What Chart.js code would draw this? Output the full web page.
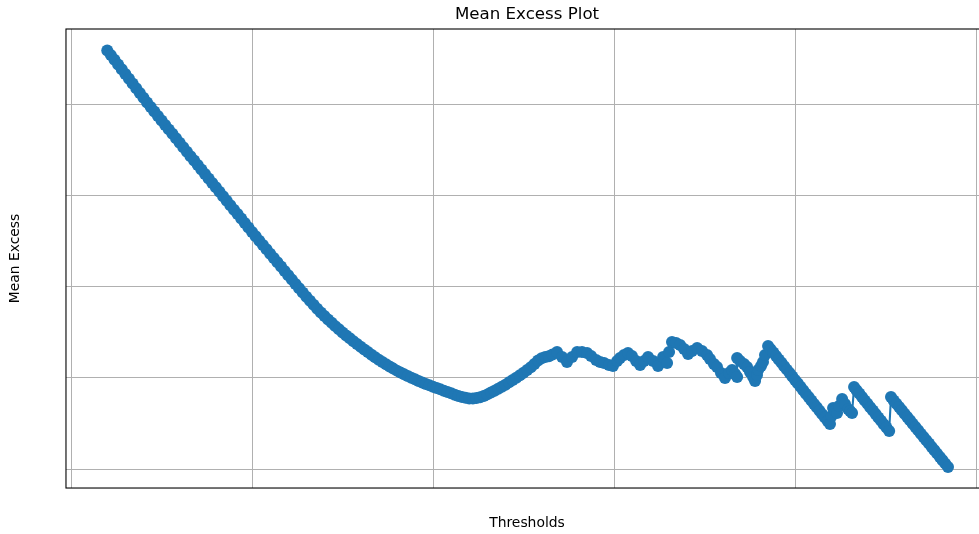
<!DOCTYPE html>
<html>
<head>
<meta charset="utf-8">
<title>Mean Excess Plot</title>
<script src="https://cdn.jsdelivr.net/npm/chart.js@4/dist/chart.umd.min.js"></script>
<style>
  html, body { margin: 0; padding: 0; overflow: hidden; background: #ffffff; }
  canvas { display: block; }
</style>
</head>
<body>
<canvas id="chart" width="1000" height="534"></canvas>
<script>
// Threshold values (x) and the mean excess above each threshold (y)
const thresholds = [
  20, 22, 24, 26, 28, 30, 32, 34, 36, 38, 40, 42, 44, 46, 48, 50, 52, 54, 56, 58,
  60, 62, 64, 66, 68, 70, 72, 74, 76, 78, 80, 82, 84, 86, 88, 90, 92, 94, 96, 98,
  100, 102, 104, 106, 108, 110, 112, 114, 116, 118, 120, 122, 124, 126, 128, 130, 132, 134, 136, 138,
  140, 142, 144, 146, 148, 150, 152, 154, 156, 158, 160, 162, 164, 166, 168, 170, 172, 174, 176, 178,
  180, 182, 184, 186, 188, 190, 192, 194, 196, 198, 200, 202, 204, 206, 208, 210, 212, 214, 216, 218,
  220, 222, 224, 226, 228, 230, 232, 234, 236, 238, 240, 242, 244, 246, 248, 250, 252, 254, 256, 258,
  260, 262, 264, 266, 268.5,
  271.3, 274.0, 276.8, 279.6, 282.3, 285.1, 287.3, 290.1, 292.3, 294.5, 297.2, 299.4,
  301.7, 303.3, 305.5, 307.7, 309.9, 312.2, 314.4, 316.6, 318.8, 321.6, 324.3, 327.1, 329.3,
  330.4, 332.0, 334.3, 336.5, 338.7, 340.9, 343.1, 345.9, 348.6, 351.4, 353.0, 355.2, 356.9,
  359.1, 361.3, 363.5, 365.2, 366.9, 368.0, 368.0, 369.6, 371.8, 373.5, 375.1, 376.8, 377.9,
  379.0, 379.6, 381.2, 382.3, 383.4, 385.1,
  386.5, 388, 389.5, 391, 392.5, 394, 395.5, 397, 398.5, 400, 401.5, 403, 404.5, 406, 407.5,
  409, 410.5, 412, 413.5, 415, 416.5, 418, 419.3,
  420.2, 421.0, 422.1, 423.2, 424.3, 426.0, 427.6, 429.3, 430.4, 431.5,
  432.6, 434, 435.5, 437, 438.5, 440, 441.5, 443, 444.5, 446, 447.5, 449, 450.5, 452,
  453.0, 454.5, 456, 457.5, 459, 460.5, 462, 463.5, 465, 466.5, 468, 469.5, 471, 472.5,
  474, 475.5, 477, 478.5, 480, 481.5, 483, 484.5
];

const meanExcess = [
  460.0, 454.8, 449.6, 444.4, 439.2, 434.0, 428.8, 423.6, 418.4, 413.2, 408.0, 402.8, 397.7, 392.8, 387.9, 383.0, 378.1, 373.2, 368.3, 363.4,
  358.5, 353.6, 348.7, 343.8, 338.9, 334.0, 329.1, 324.2, 319.3, 314.4, 309.5, 304.6, 299.7, 294.8, 289.9, 285.0, 280.1, 275.2, 270.3, 265.4,
  260.5, 255.7, 250.9, 246.1, 241.4, 236.6, 231.9, 227.1, 222.4, 217.6, 212.9, 208.1, 203.4, 198.6, 193.9, 189.3, 184.8, 180.4, 176.2, 172.1,
  168.1, 164.3, 160.6, 157.0, 153.5, 150.1, 146.8, 143.6, 140.5, 137.4, 134.4, 131.4, 128.5, 125.6, 122.8, 120.1, 117.5, 115.0, 112.6, 110.3,
  108.1, 106.0, 104.0, 102.1, 100.3, 98.5, 96.8, 95.1, 93.5, 91.9, 90.4, 88.9, 87.5, 86.1, 84.7, 83.2, 81.7, 80.3, 79.1, 78.2,
  77.6, 77.5, 77.9, 78.8, 80.2, 82.0, 84.0, 86.0, 88.1, 90.3, 92.7, 95.2, 97.8, 100.4, 103.0, 105.8, 108.7, 111.9, 115.5, 119.3,
  121.8, 123.0, 124.0, 125.8, 128.5,
  123.1, 117.6, 123.1, 128.6, 128.6, 127.5, 124.2, 119.8, 117.6, 116.5, 114.3, 113.2,
  118.7, 122.0, 125.3, 127.5, 124.2, 118.7, 114.3, 118.7, 123.1, 118.7, 113.2, 123.1, 116.5,
  128.6, 139.6, 138.5, 136.3, 131.9, 126.4, 129.7, 133.0, 129.7, 125.3, 120.9, 115.4, 112.1,
  105.5, 100.0, 105.5, 108.8, 104.4, 101.1, 122.0, 118.7, 115.4, 112.1, 106.6, 101.1, 96.7,
  103.3, 108.8, 113.2, 117.6, 125.3, 135.2,
  131.7, 128.0, 124.2, 120.4, 116.7, 112.9, 109.2, 105.4, 101.6, 97.9, 94.1, 90.4, 86.6, 82.8, 79.1,
  75.3, 71.5, 67.8, 64.0, 60.3, 56.5, 52.7, 49.5,
  58.2, 67.0, 63.7, 61.5, 69.2, 76.9, 71.4, 65.9, 63.7, 61.5,
  90.1, 86.6, 82.9, 79.1, 75.4, 71.7, 67.9, 64.2, 60.5, 56.7, 53.0, 49.3, 45.5, 41.8,
  79.1, 75.4, 71.8, 68.1, 64.5, 60.8, 57.1, 53.5, 49.8, 46.2, 42.5, 38.8, 35.2, 31.5,
  27.9, 24.2, 20.5, 16.9, 13.2, 9.6, 5.9, 2.2
];

// Grid line positions (tick labels are not shown)
const xGridValues = [0, 100, 200, 300, 400, 500];
const yGridValues = [0, 100, 200, 300, 400];

const points = thresholds.map((t, i) => ({ x: t, y: meanExcess[i] }));

// Axes frame drawn on all four sides
const axesFrame = {
  id: 'axesFrame',
  afterDraw(chart) {
    const { ctx, chartArea: a } = chart;
    ctx.save();
    ctx.strokeStyle = '#000000';
    ctx.lineWidth = 1.1;
    ctx.strokeRect(a.left, a.top, a.right - a.left, a.bottom - a.top);
    ctx.restore();
  }
};

const font = 'DejaVu Sans';

new Chart(document.getElementById('chart'), {
  type: 'line',
  data: {
    datasets: [{
      data: points,
      borderColor: '#1f77b4',
      backgroundColor: '#1f77b4',
      borderWidth: 2.1,
      pointRadius: 6,
      pointBorderWidth: 0,
      pointBackgroundColor: '#1f77b4',
      pointHoverRadius: 6,
      tension: 0,
      fill: false
    }]
  },
  options: {
    responsive: false,
    animation: false,
    events: [],
    layout: { padding: { left: 0, right: 12, top: 0, bottom: 0 } },
    plugins: {
      legend: { display: false },
      tooltip: { enabled: false },
      title: {
        display: true,
        text: 'Mean Excess Plot',
        fullSize: false,
        color: '#000000',
        font: { family: font, size: 16.67, weight: 'normal', lineHeight: 1.2 },
        padding: { top: 5, bottom: 4 }
      }
    },
    scales: {
      x: {
        type: 'linear',
        min: -2.8,
        max: 506.6,
        afterBuildTicks: (scale) => { scale.ticks = xGridValues.map(v => ({ value: v })); },
        ticks: { display: false },
        grid: { color: '#b0b0b0', lineWidth: 1, drawTicks: false },
        border: { display: false },
        title: {
          display: true,
          text: 'Thresholds',
          color: '#000000',
          font: { family: font, size: 13.9, weight: 'normal', lineHeight: 1.2 },
          padding: { top: 26.6, bottom: 2.7 }
        }
      },
      y: {
        type: 'linear',
        min: -20.9,
        max: 483.5,
        afterBuildTicks: (scale) => { scale.ticks = yGridValues.map(v => ({ value: v })); },
        ticks: { display: false },
        grid: { color: '#b0b0b0', lineWidth: 1, drawTicks: false },
        border: { display: false },
        title: {
          display: true,
          text: 'Mean Excess',
          color: '#000000',
          font: { family: font, size: 13.9, weight: 'normal', lineHeight: 1.2 },
          padding: { top: 6.7, bottom: 42.6 }
        }
      }
    }
  },
  plugins: [axesFrame]
});
</script>
</body>
</html>
